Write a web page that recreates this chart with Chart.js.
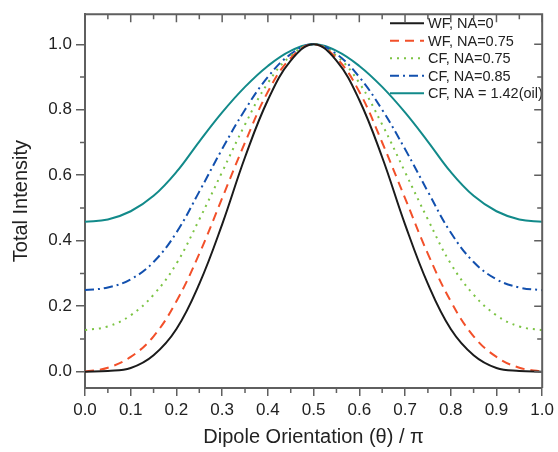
<!DOCTYPE html>
<html>
<head>
<meta charset="utf-8">
<script src="https://cdn.jsdelivr.net/npm/chart.js@4.4.1/dist/chart.umd.min.js"></script>
<style>
    html, body { margin: 0; padding: 0; background: #ffffff; }
    #chart { display: block; }
</style>
</head>
<body>
<canvas id="chart" width="558" height="452"></canvas>
<script>
// Valores
const thetaValues = [0, 0.05, 0.1, 0.15, 0.2, 0.25, 0.3, 0.35, 0.4, 0.45, 0.5,
    0.55, 0.6, 0.65, 0.7, 0.75, 0.8, 0.85, 0.9, 0.95, 1.0];
const wfNa0 = [0, 0.002, 0.011, 0.050, 0.130, 0.268, 0.450, 0.655, 0.830, 0.950, 1.0,
    0.950, 0.830, 0.655, 0.450, 0.268, 0.130, 0.050, 0.011, 0.002, 0];
const wfNa075 = [0, 0.012, 0.045, 0.108, 0.215, 0.360, 0.530, 0.700, 0.855, 0.958, 1.0,
    0.958, 0.855, 0.700, 0.530, 0.360, 0.215, 0.108, 0.045, 0.012, 0];
const cfNa075 = [0.127, 0.138, 0.172, 0.235, 0.330, 0.465, 0.610, 0.755, 0.882, 0.965, 1.0,
    0.965, 0.882, 0.755, 0.610, 0.465, 0.330, 0.235, 0.172, 0.138, 0.127];
const cfNa085 = [0.249, 0.257, 0.282, 0.335, 0.425, 0.550, 0.680, 0.800, 0.900, 0.970, 1.0,
    0.970, 0.900, 0.800, 0.680, 0.550, 0.425, 0.335, 0.282, 0.257, 0.249];
const cfNa142 = [0.458, 0.465, 0.490, 0.537, 0.610, 0.703, 0.792, 0.870, 0.934, 0.980, 1.0,
    0.980, 0.934, 0.870, 0.792, 0.703, 0.610, 0.537, 0.490, 0.465, 0.458];

const seriesLabels = ['WF, NA=0', 'WF, NA=0.75', 'CF, NA=0.75', 'CF, NA=0.85', 'CF, NA = 1.42(oil)'];
const xTicks = [0, 0.1, 0.2, 0.3, 0.4, 0.5, 0.6, 0.7, 0.8, 0.9, 1.0];
const yTicks = [0, 0.2, 0.4, 0.6, 0.8, 1.0];
const yMinorTicks = [0.1, 0.3, 0.5, 0.7, 0.9];
const xMinorTicks = [0.05, 0.15, 0.25, 0.35, 0.45, 0.55, 0.65, 0.75, 0.85, 0.95];

const AXIS_COLOR = '#5f5f5f';
const TEXT_COLOR = '#222222';
const FONT = '"Liberation Sans", Arial, sans-serif';

function toPoints(values) {
    return thetaValues.map((t, i) => ({ x: t, y: values[i] }));
}

function makeDataset(label, values, color, dash) {
    return {
        label: label,
        data: toPoints(values),
        borderColor: color,
        backgroundColor: color,
        borderWidth: 2,
        borderDash: dash,
        pointRadius: 0,
        fill: false,
        tension: 0.4
    };
}

// Marco, ticks menores y ticks interiores arriba/derecha
const framePlugin = {
    id: 'frame',
    afterDraw(chart) {
        const ctx = chart.ctx;
        const area = chart.chartArea;
        const xs = chart.scales.x;
        const ys = chart.scales.y;
        ctx.save();
        ctx.strokeStyle = AXIS_COLOR;
        ctx.lineWidth = 2;
        ctx.beginPath();
        ctx.moveTo(area.left, area.top);
        ctx.lineTo(area.right, area.top);
        ctx.lineTo(area.right, area.bottom);
        ctx.stroke();

        ctx.lineWidth = 1.5;
        ctx.beginPath();
        xTicks.forEach(v => {
            const px = xs.getPixelForValue(v);
            ctx.moveTo(px, area.top);
            ctx.lineTo(px, area.top + 8);
        });
        xMinorTicks.forEach(v => {
            const px = xs.getPixelForValue(v);
            ctx.moveTo(px, area.bottom);
            ctx.lineTo(px, area.bottom + 5);
            ctx.moveTo(px, area.top);
            ctx.lineTo(px, area.top + 5);
        });
        yTicks.forEach(v => {
            const py = ys.getPixelForValue(v);
            ctx.moveTo(area.right, py);
            ctx.lineTo(area.right - 8, py);
        });
        yMinorTicks.forEach(v => {
            const py = ys.getPixelForValue(v);
            ctx.moveTo(area.left, py);
            ctx.lineTo(area.left - 5, py);
            ctx.moveTo(area.right, py);
            ctx.lineTo(area.right - 5, py);
        });
        ctx.stroke();
        ctx.restore();
    }
};

// Leyenda dentro del area del grafico, sin recuadro
const legendPlugin = {
    id: 'insideLegend',
    afterDatasetsDraw(chart) {
        const ctx = chart.ctx;
        const area = chart.chartArea;
        const lineStart = area.left + 305;
        const lineEnd = lineStart + 34;
        const textX = lineEnd + 4;
        ctx.save();
        ctx.font = '14.5px ' + FONT;
        ctx.textBaseline = 'middle';
        ctx.textAlign = 'left';
        chart.data.datasets.forEach((ds, i) => {
            const y = area.top + 9 + i * 17.5;
            ctx.strokeStyle = ds.borderColor;
            ctx.lineWidth = 2;
            ctx.setLineDash(ds.borderDash || []);
            ctx.beginPath();
            ctx.moveTo(lineStart, y);
            ctx.lineTo(lineEnd, y);
            ctx.stroke();
            ctx.setLineDash([]);
            ctx.fillStyle = TEXT_COLOR;
            ctx.fillText(ds.label, textX, y + 1);
        });
        ctx.restore();
    }
};

const datasets = [
    makeDataset(seriesLabels[0], wfNa0, '#1b1b1b', []),
    makeDataset(seriesLabels[1], wfNa075, '#f2502a', [9, 6]),
    makeDataset(seriesLabels[2], cfNa075, '#7cc444', [2, 5]),
    makeDataset(seriesLabels[3], cfNa085, '#1250ae', [9, 4, 2, 4]),
    makeDataset(seriesLabels[4], cfNa142, '#128a8a', [])
];

new Chart(document.getElementById('chart'), {
    type: 'line',
    data: { datasets: datasets },
    plugins: [framePlugin, legendPlugin],
    options: {
        responsive: false,
        animation: false,
        devicePixelRatio: 1,
        layout: { padding: { top: 14, right: 14, left: 0, bottom: 0 } },
        plugins: {
            legend: { display: false },
            tooltip: { enabled: false }
        },
        scales: {
            x: {
                type: 'linear',
                min: 0,
                max: 1,
                afterBuildTicks: scale => { scale.ticks = xTicks.map(v => ({ value: v })); },
                afterFit: scale => { scale.height = 64; },
                ticks: {
                    callback: v => v.toFixed(1),
                    color: TEXT_COLOR,
                    font: { family: FONT, size: 17 },
                    padding: 4,
                    maxRotation: 0,
                    autoSkip: false
                },
                grid: { drawOnChartArea: false, drawTicks: true, tickLength: 8, color: AXIS_COLOR, lineWidth: 1.5 },
                border: { color: AXIS_COLOR, width: 2 },
                title: {
                    display: true,
                    text: 'Dipole Orientation (θ) / π',
                    color: TEXT_COLOR,
                    font: { family: FONT, size: 20 },
                    padding: { top: 0, bottom: 3 }
                }
            },
            y: {
                type: 'linear',
                min: -0.05,
                max: 1.092,
                afterBuildTicks: scale => { scale.ticks = yTicks.map(v => ({ value: v })); },
                afterFit: scale => { scale.width = 85; },
                ticks: {
                    callback: v => v.toFixed(1),
                    color: TEXT_COLOR,
                    font: { family: FONT, size: 17 },
                    padding: 4
                },
                grid: { drawOnChartArea: false, drawTicks: true, tickLength: 9, color: AXIS_COLOR, lineWidth: 1.5 },
                border: { color: AXIS_COLOR, width: 2 },
                title: {
                    display: true,
                    text: 'Total Intensity',
                    color: TEXT_COLOR,
                    font: { family: FONT, size: 20 },
                    padding: { top: 9, bottom: 0 }
                }
            }
        }
    }
});
</script>
</body>
</html>
